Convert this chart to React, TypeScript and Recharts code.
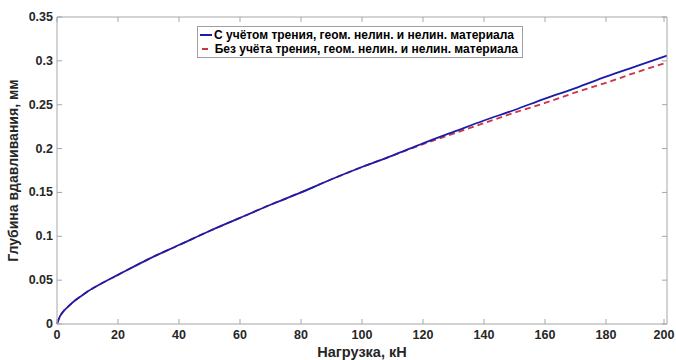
import { Legend, Line, LineChart, XAxis, YAxis } from "recharts";

const loads = [0, 1, 2, 4, 6, 8, 10, 15, 20, 30, 40, 50, 60, 70, 80, 90, 100, 110, 120, 130, 140, 150, 160, 170, 180, 190, 200];
const withFriction = [0, 0.009, 0.014, 0.021, 0.027, 0.032, 0.037, 0.047, 0.056, 0.074, 0.09, 0.106, 0.121, 0.136, 0.15, 0.165, 0.179, 0.192, 0.206, 0.219, 0.232, 0.244, 0.257, 0.269, 0.282, 0.294, 0.306];
const noFriction = [0, 0.009, 0.014, 0.021, 0.027, 0.032, 0.037, 0.047, 0.056, 0.074, 0.09, 0.106, 0.121, 0.136, 0.15, 0.165, 0.179, 0.192, 0.205, 0.217, 0.229, 0.241, 0.252, 0.264, 0.275, 0.287, 0.298];
const xTicks = [0, 20, 40, 60, 80, 100, 120, 140, 160, 180, 200];
const yTicks = [0, 0.05, 0.1, 0.15, 0.2, 0.25, 0.3, 0.35];

const data = loads.map((x, i) => ({ x, a: withFriction[i], b: noFriction[i] }));

const FONT = "Arial, 'Liberation Sans', sans-serif";
const AXIS = "#a6a6a6";
const TEXT = "#262626";
const BLUE = "#1c1ca8";
const RED = "#cc3344";

function BottomTick({ x, y, payload }: any) {
  return (
    <g>
      <line x1={x} y1={y} x2={x} y2={y - 5} stroke={AXIS} />
      <text x={x} y={y + 15} textAnchor="middle" fontFamily={FONT} fontSize={12.5} fontWeight="bold" fill={TEXT}>
        {payload.value}
      </text>
    </g>
  );
}

function TopTick({ x, y }: any) {
  return <line x1={x} y1={y} x2={x} y2={y + 5} stroke={AXIS} />;
}

function LeftTick({ x, y, payload }: any) {
  return (
    <g>
      <line x1={x} y1={y} x2={x + 5} y2={y} stroke={AXIS} />
      <text x={x - 4} y={y + 4} textAnchor="end" fontFamily={FONT} fontSize={12.5} fontWeight="bold" fill={TEXT}>
        {payload.value}
      </text>
    </g>
  );
}

function RightTick({ x, y }: any) {
  return <line x1={x} y1={y} x2={x - 5} y2={y} stroke={AXIS} />;
}

function LegendBox() {
  const row = { display: "flex", alignItems: "center", height: 14 };
  return (
    <div
      style={{
        border: "1px solid #a0a0a0",
        background: "#fff",
        padding: "1px 4px 1px 2px",
        fontFamily: FONT,
        fontSize: 12,
        fontWeight: "bold",
        color: "#000",
        lineHeight: "14px",
        width: 318,
        whiteSpace: "nowrap",
      }}
    >
      <div style={row}>
        <svg width={12} height={4} style={{ marginRight: 2 }}>
          <line x1={0} y1={2} x2={12} y2={2} stroke={BLUE} strokeWidth={2} />
        </svg>
        С учётом трения, геом. нелин. и нелин. материала
      </div>
      <div style={row}>
        <svg width={12} height={4} style={{ marginRight: 6 }}>
          <line x1={2} y1={2} x2={8} y2={2} stroke={RED} strokeWidth={2} />
        </svg>
        Без учёта трения, геом. нелин. и нелин. материала
      </div>
    </div>
  );
}

export default function App() {
  return (
    <div style={{ position: "fixed", left: 0, top: 0, width: 676, height: 360, background: "#fff" }}>
      <LineChart width={676} height={360} data={data} margin={{ top: 16, right: 8, left: 0, bottom: 0 }}>
        <XAxis
          dataKey="x"
          type="number"
          domain={[0, 200]}
          ticks={xTicks}
          height={36}
          stroke={AXIS}
          tickLine={false}
          tickSize={0}
          tickMargin={0}
          tick={<BottomTick />}
          label={({ viewBox }: any) => (
            <text
              x={viewBox.x + viewBox.width / 2}
              y={viewBox.y + 33}
              textAnchor="middle"
              fontFamily={FONT}
              fontSize={14.5}
              fontWeight="bold"
              fill={TEXT}
            >
              Нагрузка, кН
            </text>
          )}
        />
        <XAxis
          xAxisId="top"
          orientation="top"
          dataKey="x"
          type="number"
          domain={[0, 200]}
          ticks={xTicks}
          height={1}
          stroke={AXIS}
          tickLine={false}
          tickSize={0}
          tickMargin={0}
          tick={<TopTick />}
        />
        <YAxis
          type="number"
          domain={[0, 0.35]}
          ticks={yTicks}
          width={57}
          stroke={AXIS}
          tickLine={false}
          tickSize={0}
          tickMargin={0}
          tick={<LeftTick />}
          label={({ viewBox }: any) => (
            <text
              x={18}
              y={viewBox.y + viewBox.height / 2}
              transform={`rotate(-90, 18, ${viewBox.y + viewBox.height / 2})`}
              textAnchor="middle"
              fontFamily={FONT}
              fontSize={14}
              fontWeight="bold"
              fill={TEXT}
            >
              Глубина вдавливания, мм
            </text>
          )}
        />
        <YAxis
          yAxisId="right"
          orientation="right"
          type="number"
          domain={[0, 0.35]}
          ticks={yTicks}
          width={1}
          stroke={AXIS}
          tickLine={false}
          tickSize={0}
          tickMargin={0}
          tick={<RightTick />}
        />
        <Legend
          layout="horizontal"
          verticalAlign="middle"
          align="center"
          wrapperStyle={{ left: 197, top: 26, width: "auto", transform: "none" }}
          content={() => <LegendBox />}
        />
        <Line
          xAxisId="top"
          yAxisId="right"
          dataKey="a"
          stroke="none"
          dot={false}
          activeDot={false}
          isAnimationActive={false}
        />
        <Line
          type="monotone"
          dataKey="b"
          stroke={RED}
          strokeWidth={1.8}
          strokeDasharray="6 4"
          dot={false}
          isAnimationActive={false}
        />
        <Line
          type="monotone"
          dataKey="a"
          stroke={BLUE}
          strokeWidth={1.8}
          dot={false}
          isAnimationActive={false}
        />
      </LineChart>
    </div>
  );
}
